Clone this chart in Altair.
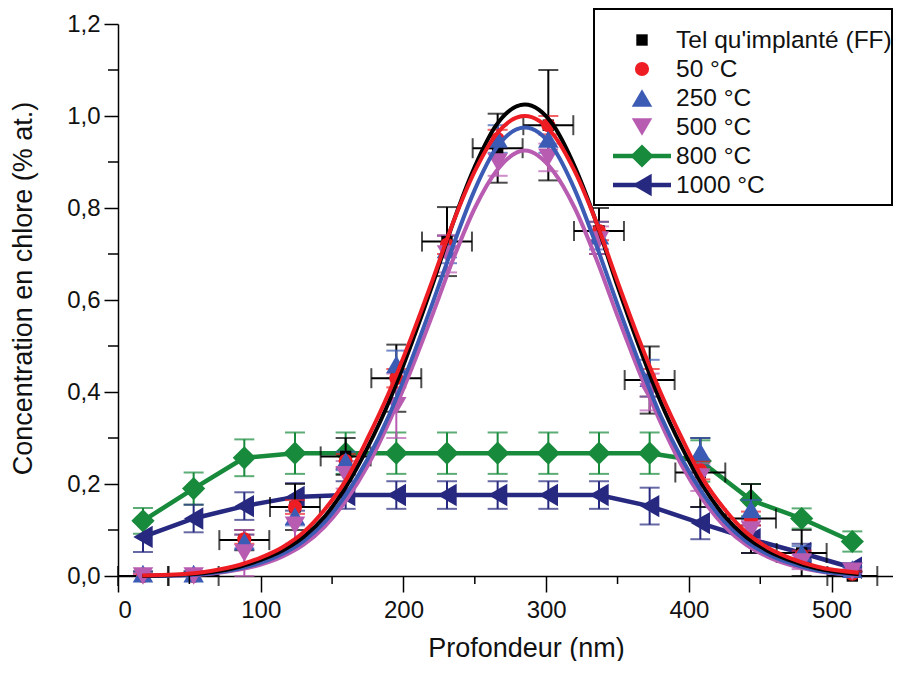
import altair as alt
import pandas as pd

# ---------------- data ----------------
series = ["Tel qu'implanté (FF)", "50 °C", "250 °C", "500 °C", "800 °C", "1000 °C"]
colors = ["#000000", "#EE1D23", "#3B5BB5", "#B85CB2", "#178A3B", "#26297F"]
shapes = ["square", "circle", "triangle-up", "triangle-down", "diamond", "triangle-left"]
sizes = [130, 200, 420, 420, 540, 500]

depth = [17.5, 53, 88.5, 124, 159.5, 195, 230.5, 266, 301.5, 337, 372.5, 408, 443.5, 479, 514.5]

ff_y = [0.0, 0.0, 0.078, 0.15, 0.26, 0.43, 0.727, 0.93, 0.98, 0.75, 0.426, 0.225, 0.125, 0.05, 0.0]
ff_err = [0.01, 0.01, 0.022, 0.05, 0.04, 0.073, 0.075, 0.075, 0.12, 0.05, 0.073, 0.075, 0.075, 0.05, 0.01]
ff_xerr = [17.5, 17.5, 17.5, 17.5, 17.5, 17.5, 17.5, 17.5, 17.5, 17.5, 17.5, 17.5, 17.5, 17.5, 17.5]

c50_y = [0.0, 0.0, 0.08, 0.15, 0.25, 0.43, 0.72, 0.95, 0.98, 0.75, 0.42, 0.23, 0.125, 0.045, 0.005]
c50_err = [0.005, 0.005, 0.01, 0.015, 0.015, 0.02, 0.02, 0.02, 0.02, 0.02, 0.03, 0.02, 0.015, 0.01, 0.005]

c250_y = [0.005, 0.005, 0.075, 0.13, 0.25, 0.46, 0.71, 0.95, 0.95, 0.74, 0.43, 0.27, 0.145, 0.05, 0.015]
c250_err = [0.005, 0.005, 0.015, 0.02, 0.02, 0.03, 0.03, 0.03, 0.03, 0.03, 0.04, 0.03, 0.02, 0.015, 0.005]

c500_y = [0.0, 0.0, 0.05, 0.11, 0.22, 0.37, 0.70, 0.90, 0.91, 0.73, 0.40, 0.215, 0.10, 0.03, 0.01]
c500_err = [0.005, 0.005, 0.05, 0.04, 0.03, 0.07, 0.04, 0.03, 0.03, 0.03, 0.04, 0.03, 0.02, 0.015, 0.005]

c800_y = [0.12, 0.19, 0.257, 0.267, 0.267, 0.267, 0.267, 0.267, 0.267, 0.267, 0.267, 0.25, 0.165, 0.125, 0.075]
c800_err = [0.028, 0.035, 0.04, 0.045, 0.045, 0.045, 0.045, 0.045, 0.045, 0.045, 0.045, 0.045, 0.035, 0.022, 0.022]

c1000_y = [0.085, 0.125, 0.152, 0.172, 0.176, 0.176, 0.176, 0.176, 0.176, 0.176, 0.152, 0.115, 0.08, 0.05, 0.018]
c1000_err = [0.033, 0.03, 0.03, 0.03, 0.03, 0.03, 0.03, 0.03, 0.03, 0.03, 0.04, 0.035, 0.03, 0.02, 0.01]

# fitted profiles
curve_x = [17, 40, 65, 85, 100, 115, 130, 145, 160, 175, 190, 205, 220, 235, 250, 265, 285,
           305, 320, 335, 350, 365, 380, 395, 410, 425, 440, 455, 470, 490, 519]
fit_ff = [0.0, 0.002, 0.008, 0.02, 0.035, 0.055, 0.085, 0.13, 0.195, 0.28, 0.38, 0.50, 0.63, 0.77, 0.89, 0.98, 1.025,
          0.98, 0.89, 0.77, 0.63, 0.50, 0.38, 0.28, 0.195, 0.13, 0.085, 0.055, 0.035, 0.016, 0.004]
fit_50 = [0.001, 0.003, 0.011, 0.024, 0.04, 0.062, 0.095, 0.145, 0.21, 0.30, 0.40, 0.515, 0.64, 0.77, 0.88, 0.96, 1.0,
          0.96, 0.88, 0.77, 0.64, 0.515, 0.40, 0.30, 0.21, 0.145, 0.095, 0.062, 0.04, 0.02, 0.007]
fit_250 = [0.0, 0.001, 0.006, 0.016, 0.029, 0.048, 0.076, 0.118, 0.178, 0.255, 0.35, 0.465, 0.59, 0.72, 0.84, 0.93, 0.975,
           0.93, 0.84, 0.72, 0.59, 0.465, 0.35, 0.255, 0.178, 0.118, 0.076, 0.048, 0.029, 0.012, 0.003]
fit_500 = [0.0, 0.001, 0.005, 0.014, 0.025, 0.042, 0.068, 0.108, 0.165, 0.24, 0.335, 0.445, 0.565, 0.69, 0.80, 0.88, 0.925,
           0.88, 0.80, 0.69, 0.565, 0.445, 0.335, 0.24, 0.165, 0.108, 0.068, 0.042, 0.025, 0.011, 0.002]

x_ticks = [0, 100, 200, 300, 400, 500]
x_minor = [50, 150, 250, 350, 450]
y_ticks = [0.0, 0.2, 0.4, 0.6, 0.8, 1.0, 1.2]
y_minor = [0.1, 0.3, 0.5, 0.7, 0.9, 1.1]

# ---------------- tables ----------------
ys = [ff_y, c50_y, c250_y, c500_y, c800_y, c1000_y]
errs = [ff_err, c50_err, c250_err, c500_err, c800_err, c1000_err]
rows = []
for s, yv, ev in zip(series, ys, errs):
    for i, (x, y, e) in enumerate(zip(depth, yv, ev)):
        xe = ff_xerr[i] if s == series[0] else 0.0
        rows.append(dict(series=s, x=x, y=y, lo=max(y - e, 0.0), hi=y + e, xlo=x - xe, xhi=x + xe))
pts = pd.DataFrame(rows)

crows = []
for s, fv in zip(series[:4], [fit_ff, fit_50, fit_250, fit_500]):
    for x, y in zip(curve_x, fv):
        crows.append(dict(series=s, x=x, y=y))
curves = pd.DataFrame(crows)

# ---------------- scales / axes ----------------
W, H = 775, 552
FONT = "Liberation Sans"
xscale = alt.Scale(domain=[0, 543], nice=False, zero=False)
yscale = alt.Scale(domain=[0, 1.2], nice=False)
xaxis = alt.Axis(values=x_ticks, title="Profondeur (nm)", grid=False, tickSize=16, labelPadding=6,
                 titleX=408, titleY=72, titleBaseline="middle", titleAnchor="middle")
yaxis = alt.Axis(values=y_ticks, title="Concentration en chlore (% at.)", grid=False, tickSize=14,
                 labelPadding=4, labelExpr="replace(format(datum.value, '.1f'), '.', ',')",
                 titleX=-95, titleY=264, titleBaseline="middle", titleAnchor="middle")

color = alt.Color("series:N", scale=alt.Scale(domain=series, range=colors), legend=None)


def X(f):
    return alt.X(f"{f}:Q", scale=xscale, axis=xaxis)


def Y(f):
    return alt.Y(f"{f}:Q", scale=yscale, axis=yaxis)


def filt(names):
    return alt.FieldOneOfPredicate(field="series", oneOf=names)


base = alt.Chart(pts)
hot = series[4:]
cold = series[:4]

lines_hot = base.mark_line(strokeWidth=4.5).encode(x=X("x"), y=Y("y"), color=color, detail="series:N").transform_filter(filt(hot))


def err_layers(names):
    b = base.transform_filter(filt(names))
    r = b.mark_rule(strokeWidth=2).encode(x=X("x"), y=Y("lo"), y2="hi", color=color)
    t1 = b.mark_tick(orient="horizontal", size=20, thickness=2).encode(x=X("x"), y=Y("lo"), color=color)
    t2 = b.mark_tick(orient="horizontal", size=20, thickness=2).encode(x=X("x"), y=Y("hi"), color=color)
    return [r, t1, t2]


def pt_layers(names):
    out = []
    for s in names:
        i = series.index(s)
        out.append(base.transform_filter(alt.FieldEqualPredicate(field="series", equal=s))
                   .mark_point(filled=True, opacity=1, shape=shapes[i], size=sizes[i], color=colors[i])
                   .encode(x=X("x"), y=Y("y")))
    return out


# black horizontal error bars
bff = base.transform_filter(filt([series[0]]))
xbar = bff.mark_rule(strokeWidth=2, color="black").encode(x=X("xlo"), x2="xhi", y=Y("y"))
xcap1 = bff.mark_tick(orient="vertical", size=20, thickness=2, color="black").encode(x=X("xlo"), y=Y("y"))
xcap2 = bff.mark_tick(orient="vertical", size=20, thickness=2, color="black").encode(x=X("xhi"), y=Y("y"))

curve_layers = []
for s in [series[3], series[2], series[0], series[1]]:
    curve_layers.append(
        alt.Chart(curves).transform_filter(alt.FieldEqualPredicate(field="series", equal=s))
        .mark_line(strokeWidth=4, interpolate="monotone")
        .encode(x=X("x"), y=Y("y"), color=color))

# minor ticks
minor_x = alt.Chart(pd.DataFrame({"m": x_minor})).mark_rule(color="black", strokeWidth=1.5).encode(
    x=alt.X("m:Q", scale=xscale, axis=xaxis), y=alt.value(H), y2=alt.value(H + 8))
minor_y = alt.Chart(pd.DataFrame({"m": y_minor})).mark_rule(color="black", strokeWidth=1.5).encode(
    y=alt.Y("m:Q", scale=yscale, axis=yaxis), x=alt.value(-10), x2=alt.value(0))

# ---------------- manual legend ----------------
leg = []
box = alt.Chart(pd.DataFrame({"a": [0]})).mark_rect(fill="white", stroke="black", strokeWidth=2).encode(
    x=alt.value(476), x2=alt.value(774), y=alt.value(-15), y2=alt.value(181))
leg.append(box)
row_y = [16, 45, 74, 103, 132, 161]
for i, s in enumerate(series):
    one = alt.Chart(pd.DataFrame({"series": [s]}))
    if i >= 4:
        leg.append(one.mark_rule(strokeWidth=4.5, color=colors[i]).encode(
            x=alt.value(495), x2=alt.value(553), y=alt.value(row_y[i])))
    leg.append(one.mark_point(filled=True, opacity=1, shape=shapes[i], size=sizes[i], color=colors[i]).encode(
        x=alt.value(524), y=alt.value(row_y[i])))
    leg.append(one.mark_text(align="left", baseline="middle", font=FONT, fontSize=24.5, color="#111").encode(
        x=alt.value(558), y=alt.value(row_y[i] + 1), text="series:N"))

layers = ([lines_hot] + err_layers(hot) + pt_layers(hot) + err_layers(cold) + [xbar, xcap1, xcap2]
          + pt_layers(cold) + curve_layers + [minor_x, minor_y] + leg)

chart = alt.layer(*layers).properties(
    width=W, height=H,
    padding={"left": 110, "top": 16, "right": 0, "bottom": 85},
    autosize=alt.AutoSizeParams(type="none"),
    background="white",
).configure_view(stroke=None).configure_axis(
    domainColor="black", domainWidth=1.5, tickColor="black", tickWidth=1.5,
    labelFont=FONT, labelFontSize=24, labelColor="#111",
    titleFont=FONT, titleFontSize=27, titleFontWeight="normal", titleColor="#111",
)

chart.save("out.html", embed_options={"renderer": "svg", "actions": False})
